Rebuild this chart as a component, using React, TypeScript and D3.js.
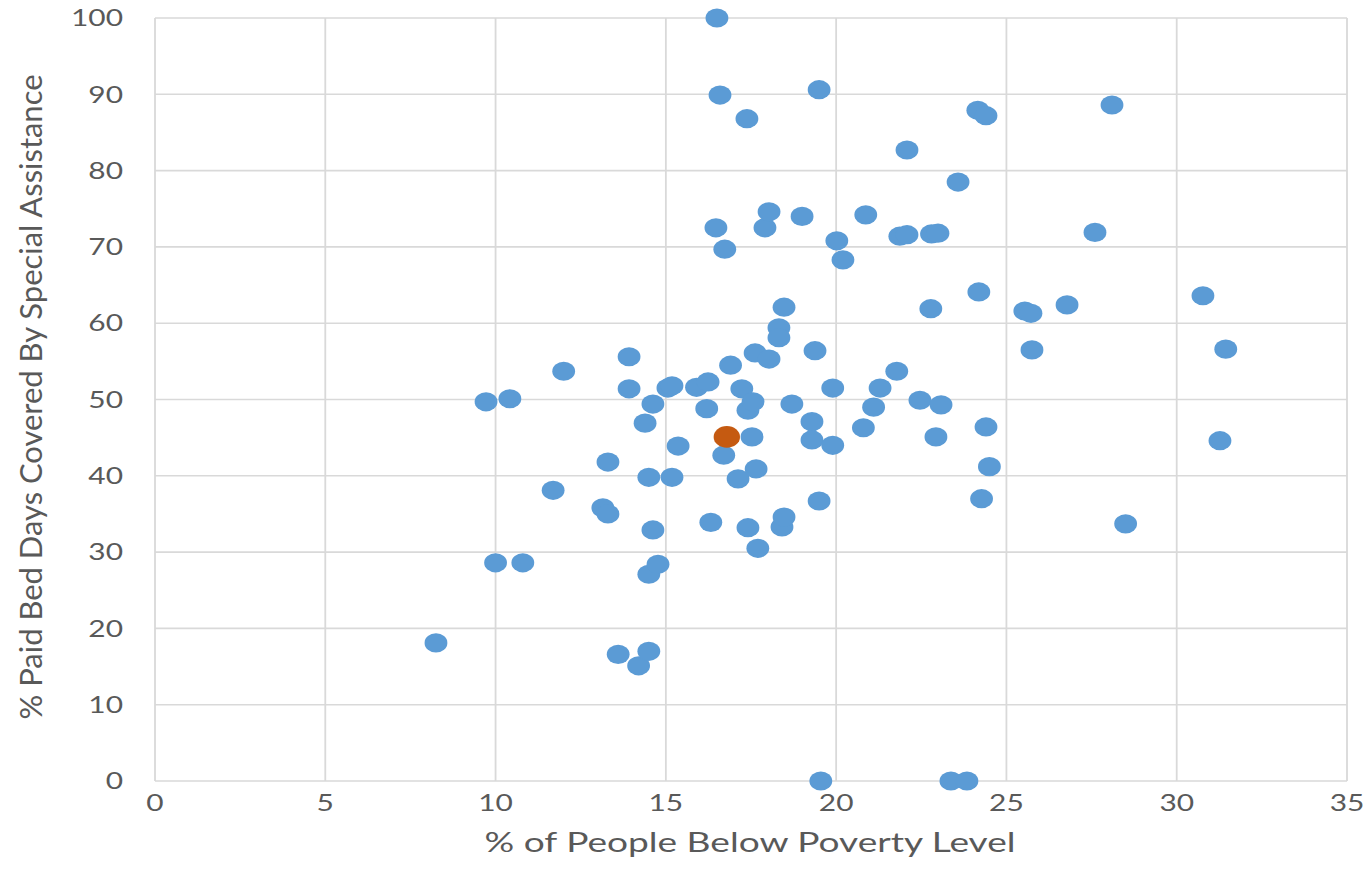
import * as d3 from 'd3'
import React from 'react'

// % of people below poverty level, % paid bed days covered by special assistance
const povertyPct = [
  9.72, 10.42, 8.25, 10.0, 10.8, 11.69, 12.0, 13.15, 13.3, 13.3, 13.6, 13.92, 13.92, 14.2, 14.39, 14.5, 14.5, 14.5,
  14.62, 14.62, 14.77, 15.06, 15.18, 15.18, 15.36, 15.9, 16.24, 16.2, 16.32, 16.47, 16.5, 16.59, 16.73, 16.7, 16.9,
  17.12, 17.23, 17.38, 17.41, 17.41, 17.53, 17.56, 17.62, 17.65, 17.7, 17.91, 18.03, 18.03, 18.32, 18.32, 18.41,
  18.47, 18.47, 18.7, 19.0, 19.29, 19.29, 19.38, 19.5, 19.5, 19.55, 19.9, 19.9, 20.02, 20.2, 20.8, 20.87, 21.1,
  21.29, 21.78, 21.87, 22.08, 22.08, 22.46, 22.78, 22.8, 22.93, 22.99, 23.08, 23.37, 23.58, 23.84, 24.16, 24.19,
  24.27, 24.4, 24.4, 24.5, 25.54, 25.72, 25.75, 26.78, 27.6, 28.1, 28.5, 30.77, 31.27, 31.44,
]
const coveredPct = [
  49.7, 50.1, 18.1, 28.6, 28.6, 38.1, 53.7, 35.8, 35.0, 41.8, 16.6, 55.6, 51.4, 15.1, 46.9, 17.0, 39.8, 27.1,
  49.4, 32.9, 28.4, 51.5, 51.8, 39.8, 43.9, 51.6, 52.3, 48.8, 33.9, 72.5, 100, 89.9, 69.7, 42.7, 54.5,
  39.6, 51.4, 86.8, 48.6, 33.2, 45.1, 49.7, 56.1, 40.9, 30.5, 72.5, 74.6, 55.3, 59.4, 58.1, 33.3,
  34.6, 62.1, 49.4, 74.0, 47.1, 44.7, 56.4, 90.6, 36.7, 0, 51.5, 44.0, 70.8, 68.3, 46.3, 74.2, 49.0,
  51.5, 53.7, 71.4, 71.6, 82.7, 49.9, 61.9, 71.7, 45.1, 71.8, 49.3, 0, 78.5, 0, 87.9, 64.1,
  37.0, 87.2, 46.4, 41.2, 61.6, 61.3, 56.5, 62.4, 71.9, 88.6, 33.7, 63.6, 44.6, 56.6,
]
// highlighted point
const highlightX = [16.79]
const highlightY = [45.1]

const xTicks = [0, 5, 10, 15, 20, 25, 30, 35]
const yTicks = [0, 10, 20, 30, 40, 50, 60, 70, 80, 90, 100]

const W = 1371
const H = 889
const plot = { left: 155, right: 1347, top: 18, bottom: 781 }
const textColor = '#595959'
const font = 'Lato, "Open Sans", sans-serif'
const stretch = 1.3

export default function App() {
  const x = d3.scaleLinear().domain([0, 35]).range([plot.left, plot.right])
  const y = d3.scaleLinear().domain([0, 100]).range([plot.bottom, plot.top])

  const points = povertyPct.map((p, i) => ({ px: p, py: coveredPct[i] }))
  const hl = highlightX.map((p, i) => ({ px: p, py: highlightY[i] }))

  return (
    <div style={{ position: 'absolute', left: 0, top: 0 }}>
      <svg width={W} height={H} style={{ display: 'block', background: '#fff' }}>
        {/* grid */}
        <g stroke="#d9d9d9">
          {yTicks.map((t) => (
            <line key={'gy' + t} x1={plot.left} x2={plot.right} y1={y(t)} y2={y(t)} strokeWidth={1.6} />
          ))}
          {xTicks.map((t) => (
            <line key={'gx' + t} x1={x(t)} x2={x(t)} y1={plot.top} y2={plot.bottom} strokeWidth={1.8} />
          ))}
        </g>

        {/* tick labels */}
        <g fill={textColor} fontFamily={font} fontSize={23}>
          {yTicks.map((t) => (
            <text key={'ty' + t} transform={`translate(123,${y(t)}) scale(${stretch},1)`} textAnchor="end" dy="0.36em">
              {t}
            </text>
          ))}
          {xTicks.map((t) => (
            <text key={'tx' + t} transform={`translate(${x(t)},811) scale(${stretch},1)`} textAnchor="middle">
              {t}
            </text>
          ))}
        </g>

        {/* axis titles */}
        <text
          x={750}
          y={852}
          fill={textColor}
          fontFamily={font}
          fontSize={27}
          textAnchor="middle"
          textLength={531}
          lengthAdjust="spacingAndGlyphs"
        >
          % of People Below Poverty Level
        </text>
        <text
          transform={`translate(42,397) scale(${stretch},1) rotate(-90)`}
          fill={textColor}
          fontFamily={font}
          fontSize={24}
          textAnchor="middle"
          textLength={645}
          lengthAdjust="spacingAndGlyphs"
        >
          % Paid Bed Days Covered By Special Assistance
        </text>

        {/* points */}
        <g fill="#5b9bd5">
          {points.map((d, i) => (
            <ellipse key={i} cx={x(d.px)} cy={y(d.py)} rx={11.4} ry={9.6} />
          ))}
        </g>
        <g fill="#c55a11">
          {hl.map((d, i) => (
            <ellipse key={i} cx={x(d.px)} cy={y(d.py)} rx={13.2} ry={10.8} />
          ))}
        </g>
      </svg>
    </div>
  )
}
